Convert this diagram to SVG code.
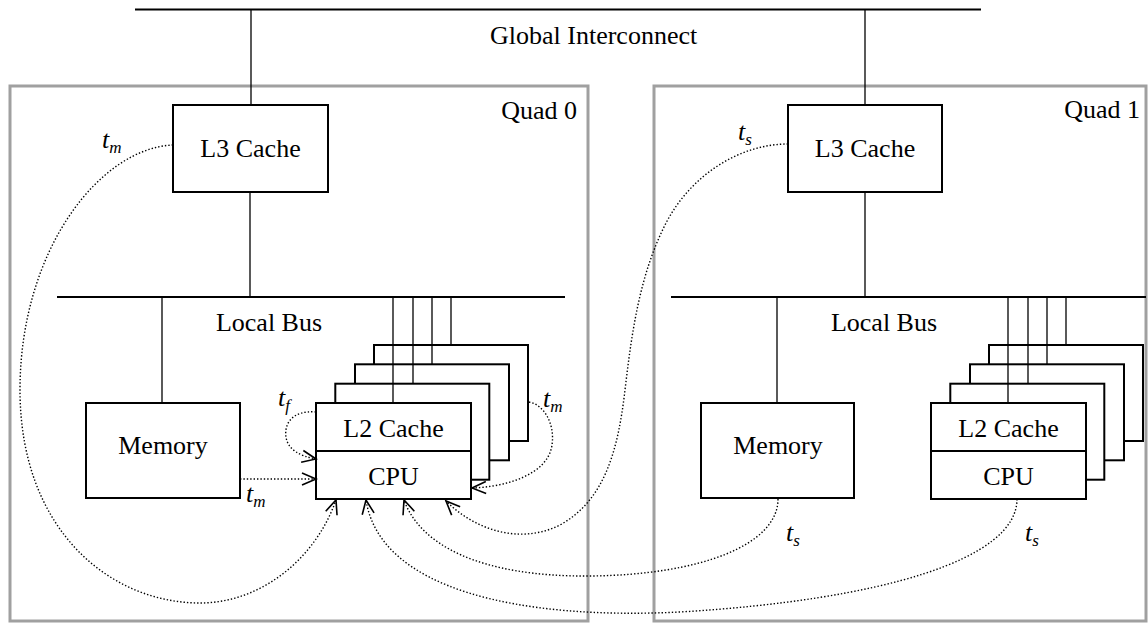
<svg xmlns="http://www.w3.org/2000/svg" width="1148" height="623" viewBox="0 0 1148 623">
<defs>
<marker id="arr" markerUnits="userSpaceOnUse" markerWidth="20" markerHeight="20" refX="0" refY="0" orient="auto" overflow="visible">
<path d="M-14,-6 L0,0 L-14,6" fill="none" stroke="#000" stroke-width="1.6"/>
</marker>
<style>
.quad{fill:none;stroke:#a0a0a0;stroke-width:3}
.box{fill:#fff;stroke:#000;stroke-width:2}
.bus{stroke:#000;stroke-width:2;fill:none}
.wire{stroke:#000;stroke-width:1.3;fill:none}
.dot{fill:none;stroke:#000;stroke-width:1.4;stroke-dasharray:1.4 2}
.lbl{font-family:"Liberation Serif","Times New Roman",serif;font-size:26px;fill:#000}
.t{font-family:"Liberation Serif","Times New Roman",serif;font-style:italic;font-size:26px;fill:#000}
.sub{font-size:17px}
</style>
</defs>
<rect width="1148" height="623" fill="#fff"/>

<g id="quad0">
<rect class="quad" x="10" y="86" width="578" height="535"/>
<text class="lbl" x="577" y="119" text-anchor="end">Quad 0</text>
</g>
<g id="quad1">
<rect class="quad" x="654" y="86" width="492" height="535"/>
<text class="lbl" x="1140" y="118" text-anchor="end">Quad 1</text>
</g>

<g id="global-interconnect">
<line class="bus" x1="135" y1="9.5" x2="981" y2="9.5"/>
<text class="lbl" x="490" y="44">Global Interconnect</text>
</g>

<g id="local-bus-q0">
<line class="bus" x1="57" y1="297" x2="565" y2="297"/>
<text class="lbl" x="269" y="331" text-anchor="middle">Local Bus</text>
</g>
<g id="local-bus-q1">
<line class="bus" x1="671" y1="297" x2="1146" y2="297"/>
<text class="lbl" x="884" y="331" text-anchor="middle">Local Bus</text>
</g>

<g id="connectors">
<line class="wire" x1="251" y1="9.5" x2="251" y2="105"/>
<line class="wire" x1="865" y1="9.5" x2="865" y2="105"/>
<line class="wire" x1="250" y1="192" x2="250" y2="297"/>
<line class="wire" x1="865" y1="192" x2="865" y2="297"/>
<line class="wire" x1="162" y1="297" x2="162" y2="403"/>
<line class="wire" x1="777" y1="297" x2="777" y2="403"/>
</g>

<g id="l3-q0">
<rect class="box" x="173" y="105" width="155" height="87"/>
<text class="lbl" x="250.5" y="157" text-anchor="middle">L3 Cache</text>
</g>
<g id="l3-q1">
<rect class="box" x="788" y="105" width="154" height="87"/>
<text class="lbl" x="865" y="157" text-anchor="middle">L3 Cache</text>
</g>

<g id="memory-q0">
<rect class="box" x="86" y="403" width="154" height="95"/>
<text class="lbl" x="163" y="454" text-anchor="middle">Memory</text>
</g>
<g id="memory-q1">
<rect class="box" x="701" y="403" width="153" height="95"/>
<text class="lbl" x="778" y="454" text-anchor="middle">Memory</text>
</g>

<g id="cpu-stack-q0">
<rect class="box" x="374" y="345" width="154" height="96"/>
<rect class="box" x="355" y="364.3" width="154" height="96"/>
<rect class="box" x="335.3" y="383.7" width="154" height="96"/>
<line class="wire" x1="451" y1="297" x2="451" y2="345"/>
<line class="wire" x1="432" y1="297" x2="432" y2="364.3"/>
<line class="wire" x1="413" y1="297" x2="413" y2="383.7"/>
<line class="wire" x1="393" y1="297" x2="393" y2="403"/>
<rect class="box" x="316" y="403" width="155" height="96"/>
<line class="bus" x1="316" y1="451" x2="471" y2="451"/>
<text class="lbl" x="393.5" y="437" text-anchor="middle">L2 Cache</text>
<text class="lbl" x="393.5" y="485" text-anchor="middle">CPU</text>
</g>
<g id="cpu-stack-q1">
<rect class="box" x="989" y="345" width="154" height="96"/>
<rect class="box" x="970" y="364.3" width="154" height="96"/>
<rect class="box" x="950.3" y="383.7" width="154" height="96"/>
<line class="wire" x1="1066" y1="297" x2="1066" y2="345"/>
<line class="wire" x1="1047" y1="297" x2="1047" y2="364.3"/>
<line class="wire" x1="1028" y1="297" x2="1028" y2="383.7"/>
<line class="wire" x1="1008" y1="297" x2="1008" y2="403"/>
<rect class="box" x="931" y="403" width="155" height="96"/>
<line class="bus" x1="931" y1="451" x2="1086" y2="451"/>
<text class="lbl" x="1008.5" y="437" text-anchor="middle">L2 Cache</text>
<text class="lbl" x="1008.5" y="485" text-anchor="middle">CPU</text>
</g>

<g id="transfers">
<path class="dot" marker-end="url(#arr)" d="M173,145 C100,148 20,250 20,390 C20,530 110,603 200,603 C260,603 315,560 336,500"/>
<path class="dot" marker-end="url(#arr)" d="M316,412 C292,410 284,424 286,437 C288,450 300,456 316,459"/>
<path class="dot" marker-end="url(#arr)" d="M240,479 L316,479"/>
<path class="dot" marker-end="url(#arr)" d="M529,402 C545,405 555,425 552,445 C548,475 505,487 472,488"/>
<path class="dot" marker-end="url(#arr)" d="M788,144 C740,144 690,175 665,225 C640,275 632,330 625,390 C618,450 605,500 560,525 C520,545 475,530 446,501"/>
<path class="dot" marker-end="url(#arr)" d="M778,499 C778,545 700,575 590,576 C480,577 420,545 404,500"/>
<path class="dot" marker-end="url(#arr)" d="M1017,499 C1017,560 880,600 680,612 C520,620 380,590 366,500"/>
</g>

<g id="labels">
<text class="t" x="102" y="148">t<tspan class="sub" dy="5">m</tspan></text>
<text class="t" x="738" y="140">t<tspan class="sub" dy="5">s</tspan></text>
<text class="t" x="278" y="406">t<tspan class="sub" dy="5">f</tspan></text>
<text class="t" x="246" y="502">t<tspan class="sub" dy="5">m</tspan></text>
<text class="t" x="543" y="407">t<tspan class="sub" dy="5">m</tspan></text>
<text class="t" x="786" y="541">t<tspan class="sub" dy="5">s</tspan></text>
<text class="t" x="1025" y="541">t<tspan class="sub" dy="5">s</tspan></text>
</g>
</svg>
